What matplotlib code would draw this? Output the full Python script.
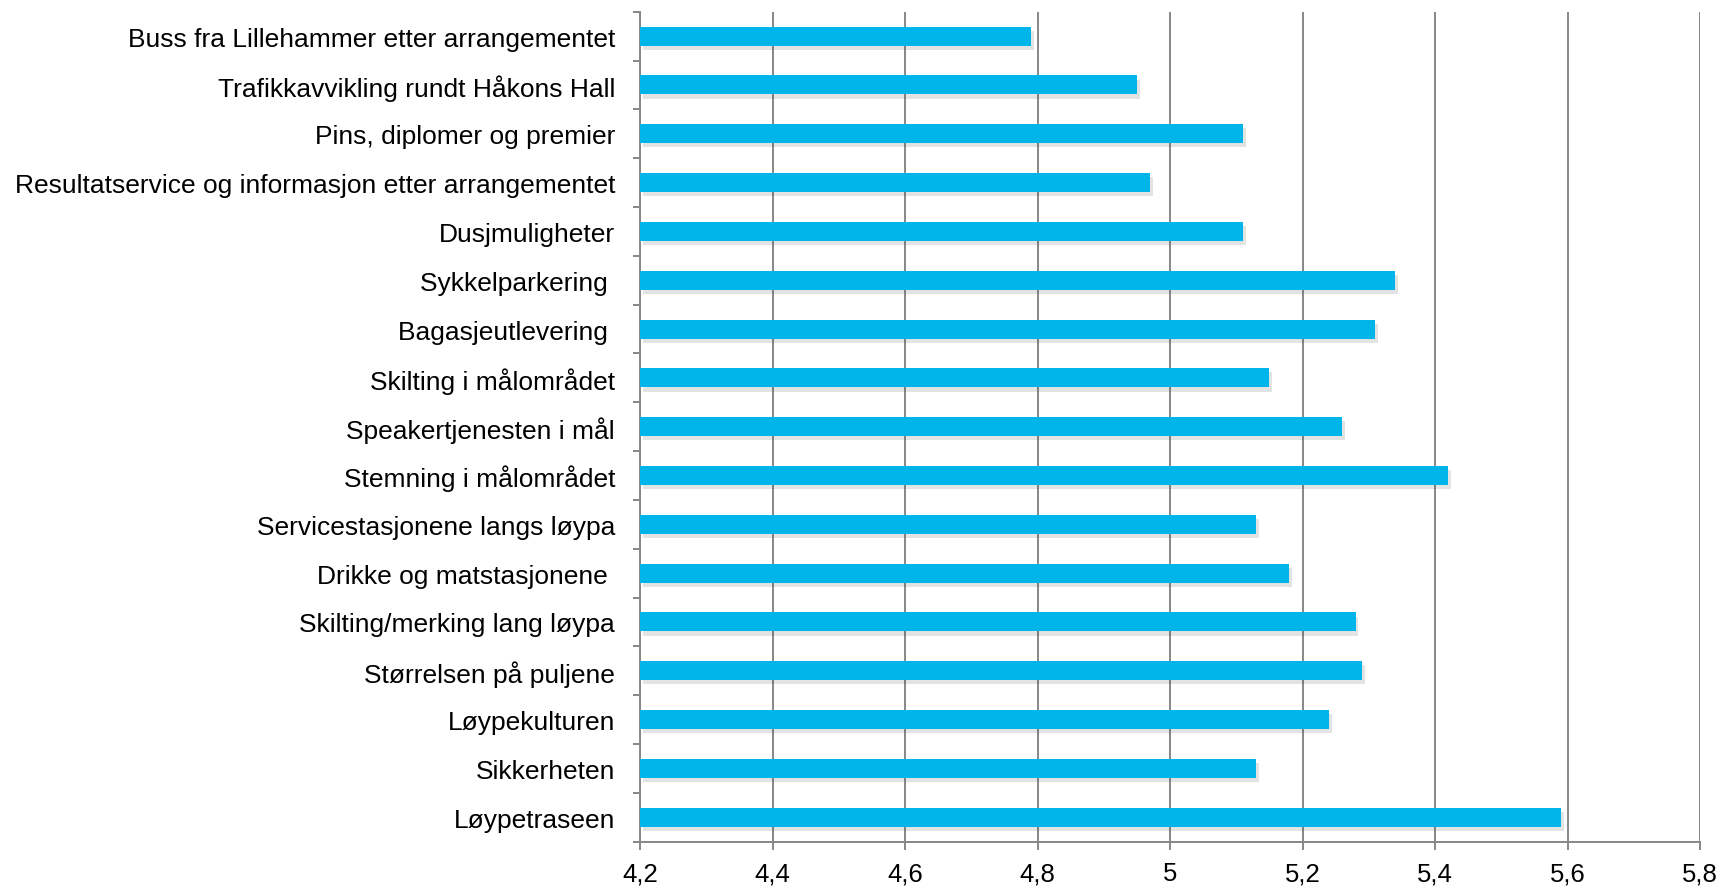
import matplotlib.pyplot as plt
import matplotlib.patheffects as pe
import numpy as np

# categories listed from top to bottom as in the chart
categories = [
    'Buss fra Lillehammer etter arrangementet',
    'Trafikkavvikling rundt Håkons Hall',
    'Pins, diplomer og premier',
    'Resultatservice og informasjon etter arrangementet',
    'Dusjmuligheter',
    'Sykkelparkering ',
    'Bagasjeutlevering ',
    'Skilting i målområdet',
    'Speakertjenesten i mål',
    'Stemning i målområdet',
    'Servicestasjonene langs løypa',
    'Drikke og matstasjonene ',
    'Skilting/merking lang løypa',
    'Størrelsen på puljene',
    'Løypekulturen',
    'Sikkerheten',
    'Løypetraseen',
]
scores = [4.79, 4.95, 5.11, 4.97, 5.11, 5.34, 5.31, 5.15, 5.26,
          5.42, 5.13, 5.18, 5.28, 5.29, 5.24, 5.13, 5.59]

x_ticks = [4.2, 4.4, 4.6, 4.8, 5.0, 5.2, 5.4, 5.6, 5.8]
x_labels = ['4,2', '4,4', '4,6', '4,8', '5', '5,2', '5,4', '5,6', '5,8']

plt.rcParams['font.family'] = ['Liberation Sans', 'DejaVu Sans']

fig = plt.figure(figsize=(17.2, 8.87), dpi=100)
ax = fig.add_axes([0.3721, 0.0500, 0.6163, 0.9357])

n = len(categories)
ypos = np.arange(n)[::-1]
x0 = x_ticks[0]
bars = ax.barh(ypos, np.array(scores) - x0, left=x0, height=0.39,
               color='#00B5EA', zorder=3)
for b in bars:
    b.set_path_effects([pe.SimplePatchShadow(offset=(2, -3), alpha=0.15,
                                             shadow_rgbFace='#444444'),
                        pe.Normal()])

ax.set_xlim(4.2, 5.8)
ax.set_ylim(-0.5, n - 0.5)
ax.set_xticks(x_ticks)
ax.set_xticklabels(x_labels, fontsize=18.5)
ax.set_yticks(ypos)
ax.set_yticklabels(categories, fontsize=19)
ax.tick_params(axis='y', length=0, pad=18)
# category boundary ticks on the y axis
ax.set_yticks(np.arange(n + 1) - 0.5, minor=True)
ax.tick_params(axis='y', which='minor', length=5, width=1.4, color='#878787')
ax.tick_params(axis='x', length=6, width=1.4, color='#878787', pad=8)

ax.grid(axis='x', color='#878787', linewidth=1.4, zorder=0)
ax.set_axisbelow(True)
for s in ['top', 'right']:
    ax.spines[s].set_visible(False)
for s in ['left', 'bottom']:
    ax.spines[s].set_color('#878787')
    ax.spines[s].set_linewidth(1.4)

fig.savefig('out.png', dpi=100)
